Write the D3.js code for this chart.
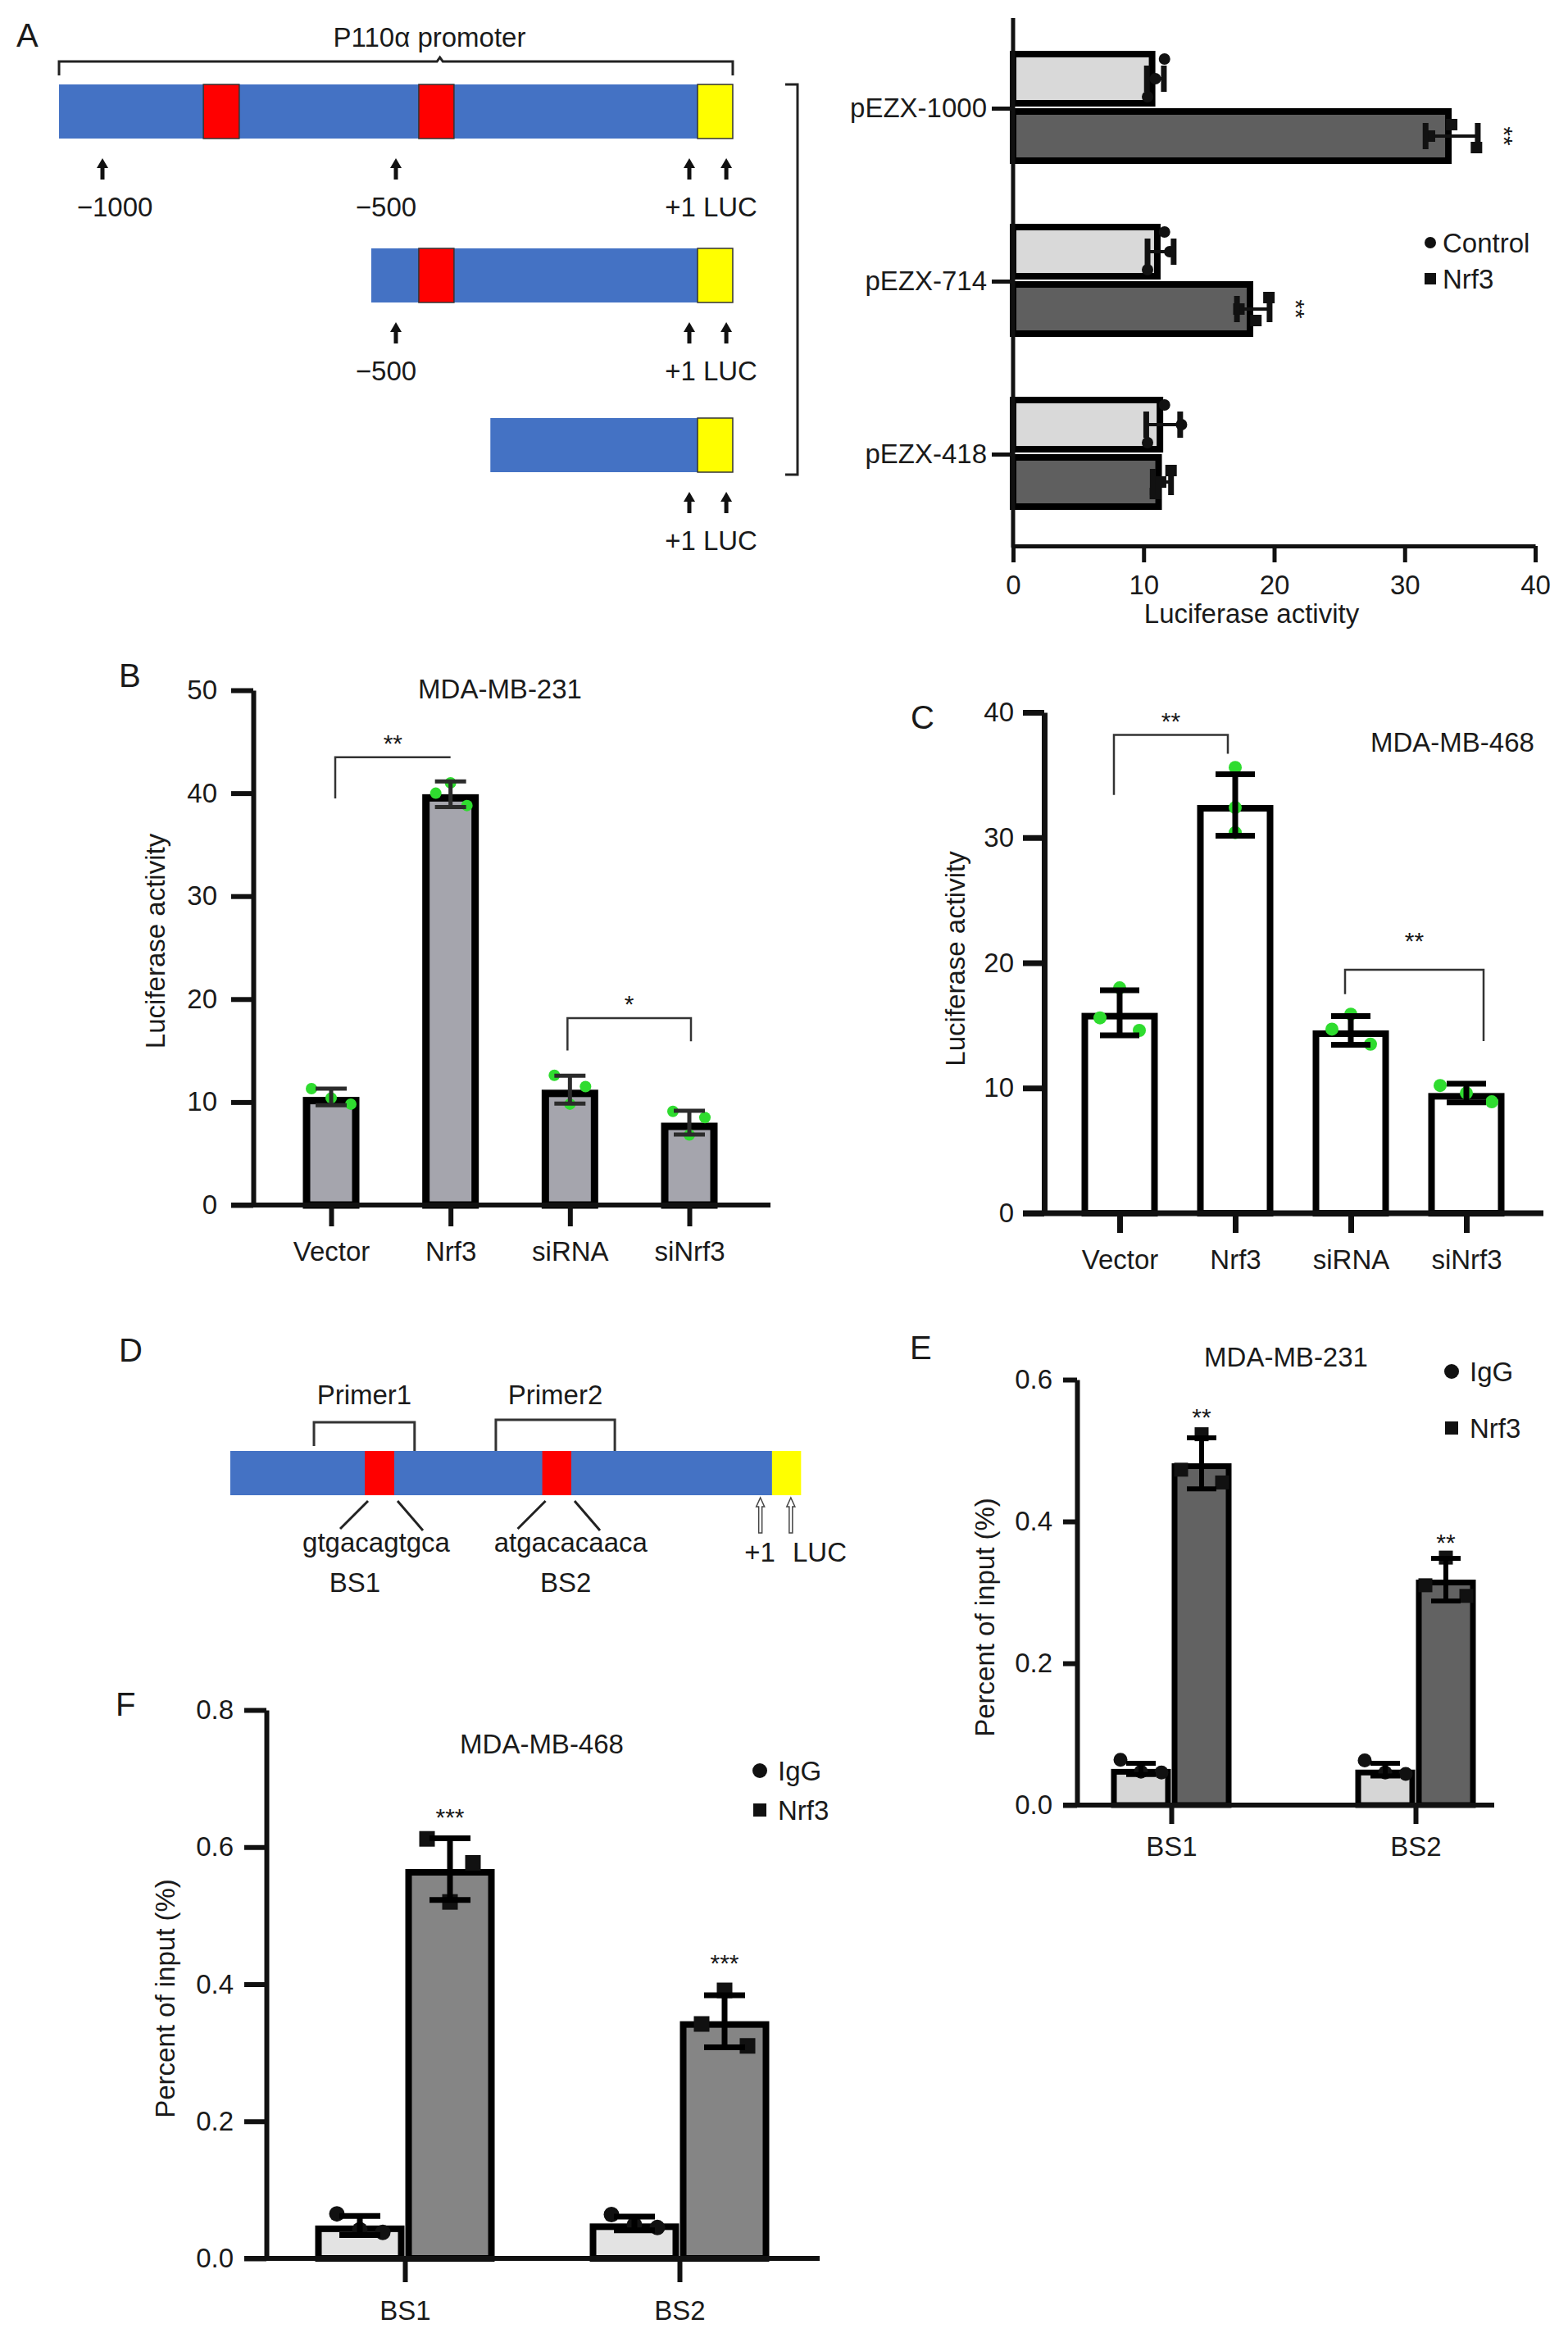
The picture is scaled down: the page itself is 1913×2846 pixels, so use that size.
<!DOCTYPE html>
<html>
<head>
<meta charset="utf-8">
<script src="https://cdn.jsdelivr.net/npm/d3@7"></script>
<style>
  body { margin: 0; background: #fff; }
  svg { display: block; font-family: "Liberation Sans", Arial, sans-serif; }
</style>
</head>
<body>
<svg id="fig" width="1913" height="2846"></svg>
<script>
// ---------- data ----------
// A: promoter deletion constructs (luciferase activity)
const aGroups = ["pEZX-1000", "pEZX-714", "pEZX-418"];
const aControlMean = [10.9, 11.3, 11.5];
const aControlSD = [0.65, 1.0, 1.3];
const aControlPts = [[11.6, 10.9, 10.3], [11.6, 12.0, 10.3], [11.6, 12.9, 10.3]];
const aNrf3Mean = [33.6, 18.4, 11.4];
const aNrf3SD = [2.0, 1.25, 0.7];
const aNrf3Pts = [[33.6, 31.9, 35.5], [19.6, 17.3, 18.6], [12.1, 11.3, 10.9]];
const aStars = ["**", "**", ""];
const aTicks = [0, 10, 20, 30, 40];

// promoter map, bp relative to +1
const constructStart = [-1074, -542, -339];
const bindingSites = [[-828, -767], [-461, -401]];
const lucBox = [14, 74];
const arrowMarks = [[-1000, -500, 0, 63], [-500, 0, 63], [0, 63]];
const posLabels = [[[-1000, "\u22121000"], [-500, "\u2212500"]], [[-500, "\u2212500"]], []];

// B / C: luciferase, 4 conditions
const bcCats = ["Vector", "Nrf3", "siRNA", "siNrf3"];
const bMean = [10.5, 39.9, 11.2, 8.0];
const bSD = [0.8, 1.25, 1.35, 1.15];
const bPts = [[11.3, 10.4, 9.8], [40.0, 41.0, 38.8], [12.6, 9.8, 11.5], [9.1, 6.8, 8.5]];
const bTicks = [0, 10, 20, 30, 40, 50];
const cMean = [16.0, 32.6, 14.6, 9.6];
const cSD = [1.8, 2.45, 1.15, 0.75];
const cPts = [[15.6, 18.0, 14.6], [35.6, 32.4, 30.4], [14.7, 15.9, 13.5], [10.2, 9.6, 8.9]];
const cTicks = [0, 10, 20, 30, 40];

// D: primers and binding sites
const primers = [["Primer1", -933, -725], ["Primer2", -557, -311]];
const siteSeqs = ["gtgacagtgca", "atgacacaaca"];
const siteNames = ["BS1", "BS2"];

// E / F: ChIP, percent of input
const chipCats = ["BS1", "BS2"];
const eIgG = [0.051, 0.050], eIgGSD = [0.008, 0.009];
const eIgGPts = [[0.064, 0.047, 0.046], [0.063, 0.046, 0.044]];
const eNrf3 = [0.482, 0.318], eNrf3SD = [0.036, 0.030];
const eNrf3Pts = [[0.473, 0.523, 0.455], [0.310, 0.349, 0.295]];
const eTicks = [0, 0.2, 0.4, 0.6];
const fIgG = [0.048, 0.051], fIgGSD = [0.014, 0.010];
const fIgGPts = [[0.065, 0.042, 0.038], [0.064, 0.049, 0.045]];
const fNrf3 = [0.568, 0.346], fNrf3SD = [0.045, 0.038];
const fNrf3Pts = [[0.612, 0.520, 0.577], [0.342, 0.391, 0.310]];
const fTicks = [0, 0.2, 0.4, 0.6, 0.8];

// ---------- helpers ----------
const svg = d3.select("#fig");
const FS = 33, INK = "#1a1a1a";

function txt(x, y, s, size, anchor) {
  return svg.append("text").attr("x", x).attr("y", y).text(s)
    .attr("font-size", size || FS).attr("text-anchor", anchor || "start").attr("fill", INK);
}
function vlabel(x, y, s) {
  svg.append("text").attr("transform", `translate(${x},${y}) rotate(-90)`)
    .attr("text-anchor", "middle").attr("dominant-baseline", "central")
    .attr("font-size", FS).attr("fill", INK).text(s);
}
function styleAxis(g, sw) {
  g.attr("font-size", FS).attr("font-family", null);
  g.select(".domain").attr("stroke", "#111").attr("stroke-width", sw);
  g.selectAll(".tick line").attr("stroke", "#111").attr("stroke-width", sw);
  g.selectAll(".tick text").attr("fill", INK);
}
function line(x1, y1, x2, y2, sw, col) {
  svg.append("line").attr("x1", x1).attr("y1", y1).attr("x2", x2).attr("y2", y2)
    .attr("stroke", col || "#111").attr("stroke-width", sw);
}
function upArrow(x, top, len) {
  svg.append("line").attr("x1", x).attr("x2", x).attr("y1", top + 8).attr("y2", top + len)
    .attr("stroke", "#111").attr("stroke-width", 5);
  svg.append("path").attr("d", `M${x - 7},${top + 12} L${x},${top} L${x + 7},${top + 12} Z`).attr("fill", "#111");
}

// ---------- panel letters ----------
txt(20, 57, "A", 40); txt(145, 838, "B", 40); txt(1111, 889, "C", 40);
txt(145, 1661, "D", 40); txt(1110, 1658, "E", 40); txt(141, 2093, "F", 40);

// ---------- A left: promoter map ----------
const bpA = d3.scaleLinear().domain([-1000, 0]).range([125, 841]);
const rowTop = [103, 303, 510], rowH = 66;
txt(524, 57, "P110\u03b1 promoter", FS, "middle");
svg.append("path")
  .attr("d", `M${bpA(constructStart[0])},92 V75 H${bpA(-430)} L${bpA(-425)},70 L${bpA(-420)},75 H${bpA(lucBox[1])} V92`)
  .attr("fill", "none").attr("stroke", "#222").attr("stroke-width", 3);

constructStart.forEach((s, i) => {
  const y0 = rowTop[i];
  svg.append("rect").attr("x", bpA(s)).attr("y", y0).attr("width", bpA(lucBox[0]) - bpA(s)).attr("height", rowH)
    .attr("fill", "#4472c4");
  bindingSites.filter(b => b[0] > s).forEach(b => {
    svg.append("rect").attr("x", bpA(b[0])).attr("y", y0).attr("width", bpA(b[1]) - bpA(b[0])).attr("height", rowH)
      .attr("fill", "#ff0000").attr("stroke", "#333").attr("stroke-width", 1.5);
  });
  svg.append("rect").attr("x", bpA(lucBox[0])).attr("y", y0).attr("width", bpA(lucBox[1]) - bpA(lucBox[0])).attr("height", rowH)
    .attr("fill", "#ffff00").attr("stroke", "#333").attr("stroke-width", 1.5);
  const aTop = y0 + rowH + 24;
  arrowMarks[i].forEach(p => upArrow(bpA(p), aTop, 26));
  posLabels[i].forEach(([p, s]) => txt(bpA(p) + (p === -1000 ? 15 : -12), aTop + 71, s, FS, "middle"));
  txt((bpA(0) + bpA(63)) / 2 + 4, aTop + 71, "+1 LUC", FS, "middle");
});
// bracket grouping the constructs
svg.append("path").attr("d", `M958,${rowTop[0]} H973 V${rowTop[2] + rowH + 3} H958`)
  .attr("fill", "none").attr("stroke", "#222").attr("stroke-width", 3);

// ---------- A right: horizontal bars ----------
{
  const x = d3.scaleLinear().domain([0, 40]).range([1236, 1873]);
  const y = d3.scalePoint().domain(aGroups).range([132, 554]);
  const sw = 8, h = 68;
  const series = [
    { mean: aControlMean, sd: aControlSD, pts: aControlPts, fill: "#d9d9d9", y0: -70, sq: false },
    { mean: aNrf3Mean, sd: aNrf3SD, pts: aNrf3Pts, fill: "#5f5f5f", y0: 0, sq: true }
  ];
  series.forEach(s => {
    aGroups.forEach((grp, i) => {
      const top = y(grp) + s.y0, cy = top + h / 2, m = s.mean[i];
      svg.append("rect").attr("x", x(0)).attr("y", top + sw / 2).attr("width", x(m) - x(0) - sw / 2).attr("height", h - sw)
        .attr("fill", s.fill).attr("stroke", "#000").attr("stroke-width", sw);
      const off = s.sq ? [-14, 0, 14] : [-24, 0, 22];
      s.pts[i].forEach((v, j) => {
        if (s.sq) svg.append("rect").attr("x", x(v) - 7).attr("y", cy + off[j] - 7).attr("width", 14).attr("height", 14).attr("fill", "#111");
        else svg.append("circle").attr("cx", x(v)).attr("cy", cy + off[j]).attr("r", 7).attr("fill", "#111");
      });
      const lo = x(m - s.sd[i]), hi = x(m + s.sd[i]);
      line(lo, cy, hi, cy, 4, "#111");
      line(lo, cy - 16, lo, cy + 16, 7, "#111");
      line(hi, cy - 16, hi, cy + 16, 7, "#111");
    });
  });
  aGroups.forEach((grp, i) => {
    if (!aStars[i]) return;
    svg.append("text").attr("transform", `translate(${x(aNrf3Mean[i] + aNrf3SD[i]) + 22},${y(grp) + 34}) rotate(90)`)
      .attr("text-anchor", "middle").attr("font-size", 30).attr("fill", INK).text(aStars[i]);
  });
  const gx = svg.append("g").attr("transform", "translate(0,666)")
    .call(d3.axisBottom(x).tickValues(aTicks).tickSize(20).tickSizeOuter(0).tickPadding(16));
  styleAxis(gx, 5);
  line(1236, 22, 1236, 668, 5);
  const gy = svg.append("g").attr("transform", "translate(1236,0)")
    .call(d3.axisLeft(y).tickSize(26).tickPadding(6));
  styleAxis(gy, 5);
  gy.select(".domain").remove();
  txt(1527, 760, "Luciferase activity", FS, "middle");
  svg.append("circle").attr("cx", 1745).attr("cy", 296).attr("r", 7).attr("fill", "#111");
  txt(1760, 308, "Control");
  svg.append("rect").attr("x", 1738).attr("y", 333).attr("width", 14).attr("height", 14).attr("fill", "#111");
  txt(1760, 352, "Nrf3");
}

// ---------- B / C: vertical luciferase bars ----------
function lucPanel(o) {
  const y = d3.scaleLinear().domain([0, o.yMax]).range(o.yRange);
  const x = d3.scalePoint().domain(bcCats).range(o.xRange);
  bcCats.forEach((c, i) => {
    const cx = x(c), m = o.mean[i];
    svg.append("rect").attr("x", cx - o.barW / 2 + o.sw / 2).attr("y", y(m) + o.sw / 2)
      .attr("width", o.barW - o.sw).attr("height", y(0) - y(m) - o.sw / 2)
      .attr("fill", o.fill).attr("stroke", "#000").attr("stroke-width", o.sw);
    o.pts[i].forEach((v, j) => {
      const dx = o.jitter[i][j];
      svg.append("circle").attr("cx", cx + dx).attr("cy", y(v)).attr("r", o.r).attr("fill", "#2fdc2f");
    });
    const lo = y(m - o.sd[i]), hi = y(m + o.sd[i]);
    line(cx, lo, cx, hi, o.ew, o.ec);
    line(cx - o.cap, lo, cx + o.cap, lo, o.ew, o.ec);
    line(cx - o.cap, hi, cx + o.cap, hi, o.ew, o.ec);
  });
  o.brackets.forEach(b => {
    const xa = x(bcCats[b.a]) + (b.dxa || 0), xb = x(bcCats[b.b]) + (b.dxb || 0);
    svg.append("path").attr("d", `M${xa},${y(b.legA)} V${y(b.top)} H${xb} V${y(b.legB)}`)
      .attr("fill", "none").attr("stroke", "#333").attr("stroke-width", 2.5);
    txt((xa + xb) / 2, y(b.starY) + 17, b.text, 30, "middle");
  });
  const gy = svg.append("g").attr("transform", `translate(${o.axisX},0)`)
    .call(d3.axisLeft(y).tickValues(o.ticks).tickSize(o.tickLen).tickSizeOuter(0).tickPadding(o.padY));
  styleAxis(gy, o.aw);
  const gx = svg.append("g").attr("transform", `translate(0,${o.yRange[0]})`)
    .call(d3.axisBottom(x).tickSize(o.tickDown).tickPadding(o.padX));
  styleAxis(gx, o.aw);
  gx.select(".domain").remove();
  line(o.axisX - o.tickLen, o.yRange[0], o.xEnd, o.yRange[0], o.aw);
  vlabel(o.labelX, (o.yRange[0] + o.yRange[1]) / 2 + o.labelDy, "Luciferase activity");
}

lucPanel({
  mean: bMean, sd: bSD, pts: bPts, ticks: bTicks, yMax: 50, yRange: [1470, 842], xRange: [404, 841],
  barW: 69, sw: 9, fill: "#a5a5ad", r: 7, ew: 5, ec: "#2b2b2b", cap: 19,
  jitter: [[-24, 0, 24], [-18, 0, 20], [-19, 0, 19], [-20, 0, 19]],
  brackets: [
    { a: 0, b: 1, top: 43.5, legA: 39.5, legB: 43.5, starY: 45.4, text: "**", dxa: 5 },
    { a: 2, b: 3, top: 18.15, legA: 15.0, legB: 15.9, starY: 20.1, text: "*", dxa: -3, dxb: 2 }
  ],
  axisX: 309, tickLen: 27, padY: 17, tickDown: 26, padX: 19, aw: 6, xEnd: 940, labelX: 189, labelDy: -8
});
txt(610, 852, "MDA-MB-231", FS, "middle");

lucPanel({
  mean: cMean, sd: cSD, pts: cPts, ticks: cTicks, yMax: 40, yRange: [1480, 869], xRange: [1366, 1789],
  barW: 93, sw: 8, fill: "#ffffff", r: 8, ew: 7, ec: "#000", cap: 24,
  jitter: [[-24, 0, 24], [0, 0, 0], [-23, 0, 24], [-32, 0, 31]],
  brackets: [
    { a: 0, b: 1, top: 38.2, legA: 33.4, legB: 36.7, starY: 39.75, text: "**", dxa: -7, dxb: -9 },
    { a: 2, b: 3, top: 19.45, legA: 17.5, legB: 13.75, starY: 22.2, text: "**", dxa: -7, dxb: 21 }
  ],
  axisX: 1274, tickLen: 26, padY: 11, tickDown: 24, padX: 21, aw: 7, xEnd: 1883, labelX: 1165, labelDy: -5
});
txt(1672, 917, "MDA-MB-468");

// ---------- D: primer map ----------
{
  const bpD = d3.scaleLinear().domain([-828, -401]).range([445, 697]);
  const top = 1770, h = 54;
  svg.append("rect").attr("x", bpD(-1106)).attr("y", top).attr("width", bpD(lucBox[0]) - bpD(-1106)).attr("height", h)
    .attr("fill", "#4472c4");
  bindingSites.forEach(b => {
    svg.append("rect").attr("x", bpD(b[0])).attr("y", top).attr("width", bpD(b[1]) - bpD(b[0])).attr("height", h)
      .attr("fill", "#ff0000");
  });
  svg.append("rect").attr("x", bpD(lucBox[0])).attr("y", top).attr("width", bpD(lucBox[1]) - bpD(lucBox[0])).attr("height", h)
    .attr("fill", "#ffff00");
  primers.forEach(([name, a, b], i) => {
    const yb = 1735 - i * 3;
    svg.append("path").attr("d", `M${bpD(a)},${top - 6 + (i ? 6 : 0)} V${yb} H${bpD(b)} V${top}`)
      .attr("fill", "none").attr("stroke", "#333").attr("stroke-width", 3);
    txt((bpD(a) + bpD(b)) / 2, 1713, name, FS, "middle");
  });
  const seqDx = [-4, 17], nameDx = [-30, 11];
  bindingSites.forEach((b, i) => {
    const xa = bpD(b[0]), xb = bpD(b[1]);
    line(xa + 4, top + h + 7, xa - 30, top + h + 41, 3, "#222");
    line(xb + 4, top + h + 7, xb + 35, top + h + 43, 3, "#222");
    txt((xa + xb) / 2 + seqDx[i], 1893, siteSeqs[i], FS, "middle");
    txt((xa + xb) / 2 + nameDx[i], 1942, siteNames[i], FS, "middle");
  });
  [0, 63].forEach(p => {
    const ax = bpD(p) - 6;
    svg.append("path").attr("d", `M${ax - 2},1870 V1838 H${ax - 5} L${ax},1827 L${ax + 5},1838 H${ax + 2} V1870 Z`)
      .attr("fill", "#fff").attr("stroke", "#444").attr("stroke-width", 1.5);
  });
  txt(927, 1905, "+1", FS, "middle");
  txt(1000, 1905, "LUC", FS, "middle");
}

// ---------- E / F: ChIP bars ----------
function chipPanel(o) {
  const y = d3.scaleLinear().domain([0, o.yMax]).range(o.yRange);
  const x = d3.scalePoint().domain(chipCats).range(o.xRange);
  const series = [
    { mean: o.igg, sd: o.iggSD, pts: o.iggPts, fill: o.iggFill, dx: -o.off, sq: false },
    { mean: o.nrf3, sd: o.nrf3SD, pts: o.nrf3Pts, fill: o.nrf3Fill, dx: o.off, sq: true }
  ];
  series.forEach(s => {
    chipCats.forEach((c, i) => {
      const cx = x(c) + s.dx, m = s.mean[i];
      svg.append("rect").attr("x", cx - o.barW / 2 + o.sw / 2).attr("y", y(m) + o.sw / 2)
        .attr("width", o.barW - o.sw).attr("height", y(0) - y(m) - o.sw / 2)
        .attr("fill", s.fill).attr("stroke", "#000").attr("stroke-width", o.sw);
      s.pts[i].forEach((v, j) => {
        const px = cx + [-o.jit, 0, o.jit][j];
        if (s.sq) svg.append("rect").attr("x", px - o.sq / 2).attr("y", y(v) - o.sq / 2).attr("width", o.sq).attr("height", o.sq).attr("fill", "#111");
        else svg.append("circle").attr("cx", px).attr("cy", y(v)).attr("r", o.sq / 2).attr("fill", "#111");
      });
      const lo = y(m - s.sd[i]), hi = y(m + s.sd[i]);
      line(cx, lo, cx, hi, o.ew, "#000");
      line(cx - o.cap, lo, cx + o.cap, lo, o.ew, "#000");
      line(cx - o.cap, hi, cx + o.cap, hi, o.ew, "#000");
    });
  });
  chipCats.forEach((c, i) => txt(x(c) + o.off, y(o.starY[i]) + 17, o.stars[i], 30, "middle"));
  const gy = svg.append("g").attr("transform", `translate(${o.axisX},0)`)
    .call(d3.axisLeft(y).tickValues(o.ticks).tickFormat(d3.format(".1f")).tickSize(o.tickLen).tickSizeOuter(0).tickPadding(o.padY));
  styleAxis(gy, o.aw);
  const gx = svg.append("g").attr("transform", `translate(0,${o.yRange[0]})`)
    .call(d3.axisBottom(x).tickSize(o.tickDown).tickPadding(o.padX));
  styleAxis(gx, o.aw);
  gx.select(".domain").remove();
  line(o.axisX - o.tickLen, o.yRange[0], o.xEnd, o.yRange[0], o.aw);
  vlabel(o.labelX, o.labelY, "Percent of input (%)");
  const lx = o.legX, ly = o.legY;
  svg.append("circle").attr("cx", lx).attr("cy", ly).attr("r", 9).attr("fill", "#111");
  txt(lx + 22, ly + 12, "IgG");
  svg.append("rect").attr("x", lx - 8).attr("y", ly + o.legGap - 8).attr("width", 16).attr("height", 16).attr("fill", "#111");
  txt(lx + 22, ly + o.legGap + 12, "Nrf3");
}

chipPanel({
  igg: eIgG, iggSD: eIgGSD, iggPts: eIgGPts, nrf3: eNrf3, nrf3SD: eNrf3SD, nrf3Pts: eNrf3Pts,
  iggFill: "#d6d6d6", nrf3Fill: "#626262", yMax: 0.6, yRange: [2202, 1683], xRange: [1429, 1727],
  off: 37, barW: 73, sw: 7, jit: 25, sq: 17, ew: 6, cap: 18, ticks: eTicks,
  stars: ["**", "**"], starY: [0.555, 0.378],
  axisX: 1314, tickLen: 17, padY: 13, tickDown: 23, padX: 16, aw: 6, xEnd: 1823,
  labelX: 1201, labelY: 1973, legX: 1771, legY: 1673, legGap: 69
});
txt(1569, 1667, "MDA-MB-231", FS, "middle");

chipPanel({
  igg: fIgG, iggSD: fIgGSD, iggPts: fIgGPts, nrf3: fNrf3, nrf3SD: fNrf3SD, nrf3Pts: fNrf3Pts,
  iggFill: "#e3e3e3", nrf3Fill: "#858585", yMax: 0.8, yRange: [2755, 2086], xRange: [494, 829],
  off: 55, barW: 109, sw: 8, jit: 28, sq: 19, ew: 7, cap: 25, ticks: fTicks,
  stars: ["***", "***"], starY: [0.652, 0.439],
  axisX: 325, tickLen: 27, padY: 13, tickDown: 29, padX: 23, aw: 6, xEnd: 1000,
  labelX: 201, labelY: 2438, legX: 927, legY: 2160, legGap: 48
});
txt(661, 2139, "MDA-MB-468", FS, "middle");
</script>
</body>
</html>
